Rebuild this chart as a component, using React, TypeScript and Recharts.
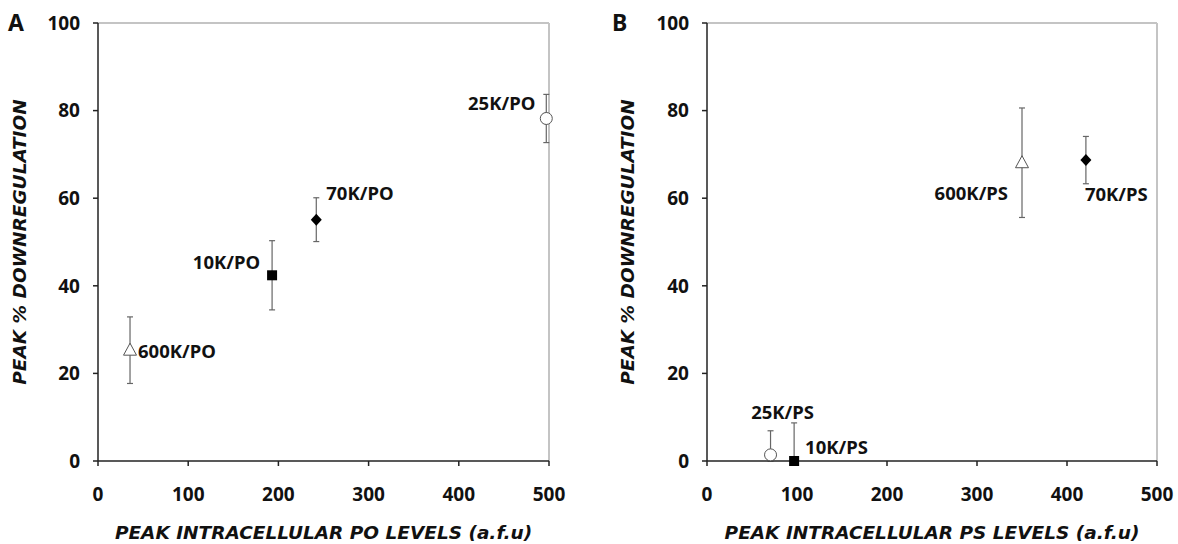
import React from "react";
import {
  ScatterChart,
  Scatter,
  XAxis,
  YAxis,
  ErrorBar,
  ReferenceLine,
  Label,
} from "recharts";

// constructs, in the same order in every array below
const constructs = ["10K", "25K", "70K", "600K"];
const markerKinds = ["square", "circle", "diamond", "triangle"];

// panel A: PO
const poLevels = [193, 497, 242, 35.5];
const poDown = [42.4, 78.2, 55.1, 25.3];
const poErrLow = [7.9, 5.5, 5.0, 7.6];
const poErrHigh = [7.9, 5.5, 5.0, 7.6];

// panel B: PS
const psLevels = [96.8, 70.6, 421, 350];
const psDown = [0, 1.4, 68.7, 68.1];
const psErrLow = [0, 1.4, 5.4, 12.5];
const psErrHigh = [8.7, 5.5, 5.4, 12.5];

const xTicks = [0, 100, 200, 300, 400, 500];
const yTicks = [0, 20, 40, 60, 80, 100];

// where each point's name sits, relative to the marker
const poLabelPos = [
  { dx: -12, dy: -14, anchor: "end" },
  { dx: -11, dy: -16, anchor: "end" },
  { dx: 10, dy: -27, anchor: "start" },
  { dx: 8, dy: 0, anchor: "start" },
];
const psLabelPos = [
  { dx: 11, dy: -15, anchor: "start" },
  { dx: 12, dy: -43, anchor: "middle" },
  { dx: -1, dy: 33, anchor: "start" },
  { dx: -14, dy: 30, anchor: "end" },
];

const FONT = "'Noto Sans', 'Open Sans', sans-serif";
const TITLE_FONT = "'DejaVu Sans', Verdana, sans-serif";
const AXIS = "#222";
const BAR = "#666";

function buildRows(suffix: string, xs: number[], ys: number[], lo: number[], hi: number[], pos: any[]) {
  return constructs.map((c, i) => ({
    name: `${c}/${suffix}`,
    kind: markerKinds[i],
    level: xs[i],
    down: ys[i],
    err: [lo[i], hi[i]],
    pos: pos[i],
  }));
}

const poRows = buildRows("PO", poLevels, poDown, poErrLow, poErrHigh, poLabelPos);
const psRows = buildRows("PS", psLevels, psDown, psErrLow, psErrHigh, psLabelPos);

function Marker(props: any) {
  const { cx, cy, payload } = props;
  if (cx == null || cy == null) return null;
  const kind = payload.kind;
  let mark: React.ReactNode = null;
  if (kind === "square") {
    mark = <rect x={cx - 5} y={cy - 5} width={10} height={10} fill="#000" />;
  } else if (kind === "circle") {
    mark = <circle cx={cx} cy={cy} r={6} fill="#fff" stroke="#555" strokeWidth={1} />;
  } else if (kind === "diamond") {
    mark = (
      <polygon
        points={`${cx},${cy - 6} ${cx + 5.5},${cy} ${cx},${cy + 6} ${cx - 5.5},${cy}`}
        fill="#000"
      />
    );
  } else {
    mark = (
      <polygon
        points={`${cx},${cy - 7} ${cx + 6.5},${cy + 5} ${cx - 6.5},${cy + 5}`}
        fill="#fff"
        stroke="#555"
        strokeWidth={1}
      />
    );
  }
  const p = payload.pos;
  return (
    <g>
      {mark}
      <text
        x={cx + p.dx}
        y={cy + p.dy}
        textAnchor={p.anchor}
        dominantBaseline="central"
        fontFamily={FONT}
        fontWeight="bold"
        fontSize={18.5}
        fill="#111"
      >
        {payload.name}
      </text>
    </g>
  );
}

function YTitle({ viewBox, offset, text }: any) {
  const cx = viewBox.x + offset;
  const cy = viewBox.y + viewBox.height / 2;
  return (
    <text
      x={cx}
      y={cy}
      transform={`rotate(-90 ${cx} ${cy})`}
      textAnchor="middle"
      dominantBaseline="central"
      fontFamily={TITLE_FONT}
      fontWeight="bold"
      fontStyle="italic"
      fontSize={18.5}
      fill="#111"
    >
      {text}
    </text>
  );
}

function XTitle({ viewBox, text }: any) {
  return (
    <text
      x={viewBox.x + viewBox.width / 2}
      y={viewBox.y + 71}
      textAnchor="middle"
      dominantBaseline="central"
      fontFamily={TITLE_FONT}
      fontWeight="bold"
      fontStyle="italic"
      fontSize={18.5}
      fill="#111"
    >
      {text}
    </text>
  );
}

const tickStyle = { fill: "#111", fontSize: 19, fontWeight: "bold", fontFamily: FONT };

function Panel({ rows, xTitle, yAxisWidth, right, titleOffset }: any) {
  return (
    <ScatterChart
      width={589}
      height={544}
      margin={{ top: 23, right, bottom: 0, left: 0 }}
    >
      <XAxis
        type="number"
        dataKey="level"
        domain={[0, 500]}
        ticks={xTicks}
        height={83}
        tick={tickStyle}
        tickSize={5}
        tickMargin={22}
        axisLine={{ stroke: AXIS, strokeWidth: 1.5 }}
        tickLine={{ stroke: AXIS, strokeWidth: 1.5 }}
      >
        <Label content={(p: any) => <XTitle {...p} text={xTitle} />} />
      </XAxis>
      <YAxis
        type="number"
        dataKey="down"
        domain={[0, 100]}
        ticks={yTicks}
        width={yAxisWidth}
        tick={tickStyle}
        tickSize={5}
        tickMargin={13}
        axisLine={{ stroke: AXIS, strokeWidth: 1.5 }}
        tickLine={{ stroke: AXIS, strokeWidth: 1.5 }}
      >
        <Label
          content={(p: any) => (
            <YTitle {...p} offset={titleOffset} text="PEAK % DOWNREGULATION" />
          )}
        />
      </YAxis>
      <ReferenceLine y={100} stroke="#c4c4c4" strokeWidth={2} />
      <ReferenceLine x={500} stroke="#c4c4c4" strokeWidth={2} />
      <Scatter data={rows} shape={<Marker />} isAnimationActive={false}>
        <ErrorBar dataKey="err" direction="y" width={3} stroke={BAR} strokeWidth={1.2} />
      </Scatter>
    </ScatterChart>
  );
}

export default function App() {
  const letter: React.CSSProperties = {
    position: "absolute",
    top: 8,
    fontFamily: FONT,
    fontWeight: "bold",
    fontSize: 23,
    color: "#111",
    lineHeight: "28px",
  };
  return (
    <div
      style={{
        position: "absolute",
        left: 0,
        top: 0,
        width: 1178,
        height: 544,
        background: "#fff",
        display: "flex",
      }}
    >
      <span style={{ ...letter, left: 8 }}>A</span>
      <span style={{ ...letter, left: 612 }}>B</span>
      <Panel
        rows={poRows}
        xTitle="PEAK INTRACELLULAR PO LEVELS (a.f.u)"
        yAxisWidth={98}
        right={40}
        titleOffset={19}
      />
      <Panel
        rows={psRows}
        xTitle="PEAK INTRACELLULAR PS LEVELS (a.f.u)"
        yAxisWidth={118}
        right={21}
        titleOffset={38}
      />
    </div>
  );
}
